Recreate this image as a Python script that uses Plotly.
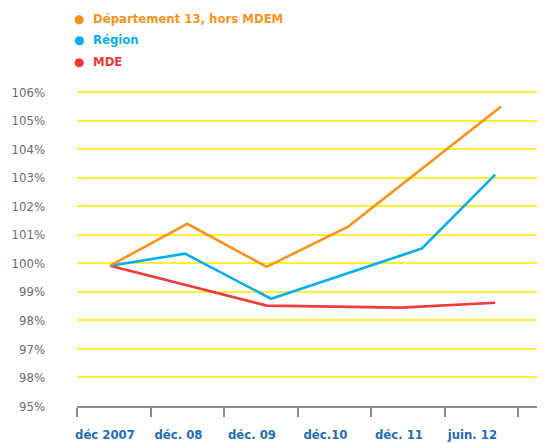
import plotly.graph_objects as go

# Data
categories = ["déc 2007", "déc. 08", "déc. 09", "déc.10", "déc. 11", "juin. 12"]
ytick_values = [95, 96, 97, 98, 99, 100, 101, 102, 103, 104, 105, 106]
ytick_labels = ["95%", "98%", "97%", "98%", "99%", "100%", "101%", "102%", "103%", "104%", "105%", "106%"]

dept_x = [-0.05, 1.0, 2.08, 3.19, 5.27]
dept_y = [99.92, 101.39, 99.88, 101.29, 105.5]

region_x = [-0.05, 0.97, 2.14, 4.19, 5.19]
region_y = [99.92, 100.34, 98.76, 100.52, 103.11]

mde_x = [-0.05, 2.08, 3.91, 5.19]
mde_y = [99.92, 98.52, 98.45, 98.62]

names = ["Département 13, hors MDEM", "Région", "MDE"]
colors = ["#f7941d", "#00aeef", "#ee3b3b"]

series = [(dept_x, dept_y), (region_x, region_y), (mde_x, mde_y)]

COND = "DejaVu Sans Condensed, Liberation Sans Narrow, sans-serif"

fig = go.Figure()
for (xs, ys), c, n in zip(reversed(series), reversed(colors), reversed(names)):
    fig.add_trace(go.Scatter(x=xs, y=ys, mode="lines", name=n,
                             line=dict(color=c, width=2.6), showlegend=False))

# plot area spans 476 px; keep 73.5 px per category slot
PW = 476.0
# legend drawn as annotations (dot + text)
legend_rows = [1.180, 1.116, 1.049]
for n, c, yy in zip(names, colors, legend_rows):
    fig.add_annotation(xref="paper", yref="paper", x=2 / PW, y=yy, text="●",
                       showarrow=False, xanchor="center", yanchor="middle",
                       font=dict(size=12, color=c, family="DejaVu Sans"))
    fig.add_annotation(xref="paper", yref="paper", x=14 / PW, y=yy, text=n,
                       showarrow=False, xanchor="left", yanchor="middle",
                       font=dict(size=13, color=c, family=COND, weight="bold"))

label_pos = [i - 0.12 for i in range(len(categories))]

# page body has an 8px margin: offset margins to compensate
fig.update_layout(
    width=545, height=435,
    margin=dict(l=69, r=0, t=70, b=37),
    paper_bgcolor="white", plot_bgcolor="white",
    showlegend=False,
    xaxis=dict(range=[-0.5, -0.5 + PW / 73.5], tickvals=label_pos, ticktext=categories,
               ticks="", showgrid=False, zeroline=False, automargin=False,
               showline=True, linecolor="#8a8a8a", linewidth=1.5,
               tickfont=dict(size=13, color="#1f6db3", family=COND, weight="bold"),
               ticklabelstandoff=16,
               minor=dict(ticks="outside", tick0=-0.5, dtick=1, ticklen=9,
                          tickcolor="#8a8a8a", tickwidth=1.5, showgrid=False)),
    yaxis=dict(range=[95, 106.5], tickvals=ytick_values, ticktext=ytick_labels,
               showgrid=True, gridcolor="#fff033", gridwidth=1.5,
               zeroline=False, showline=False, ticks="", automargin=False,
               tickfont=dict(size=13, color="#6d6d6d", family=COND),
               ticklabelstandoff=31),
)

fig.write_html("out.html")
